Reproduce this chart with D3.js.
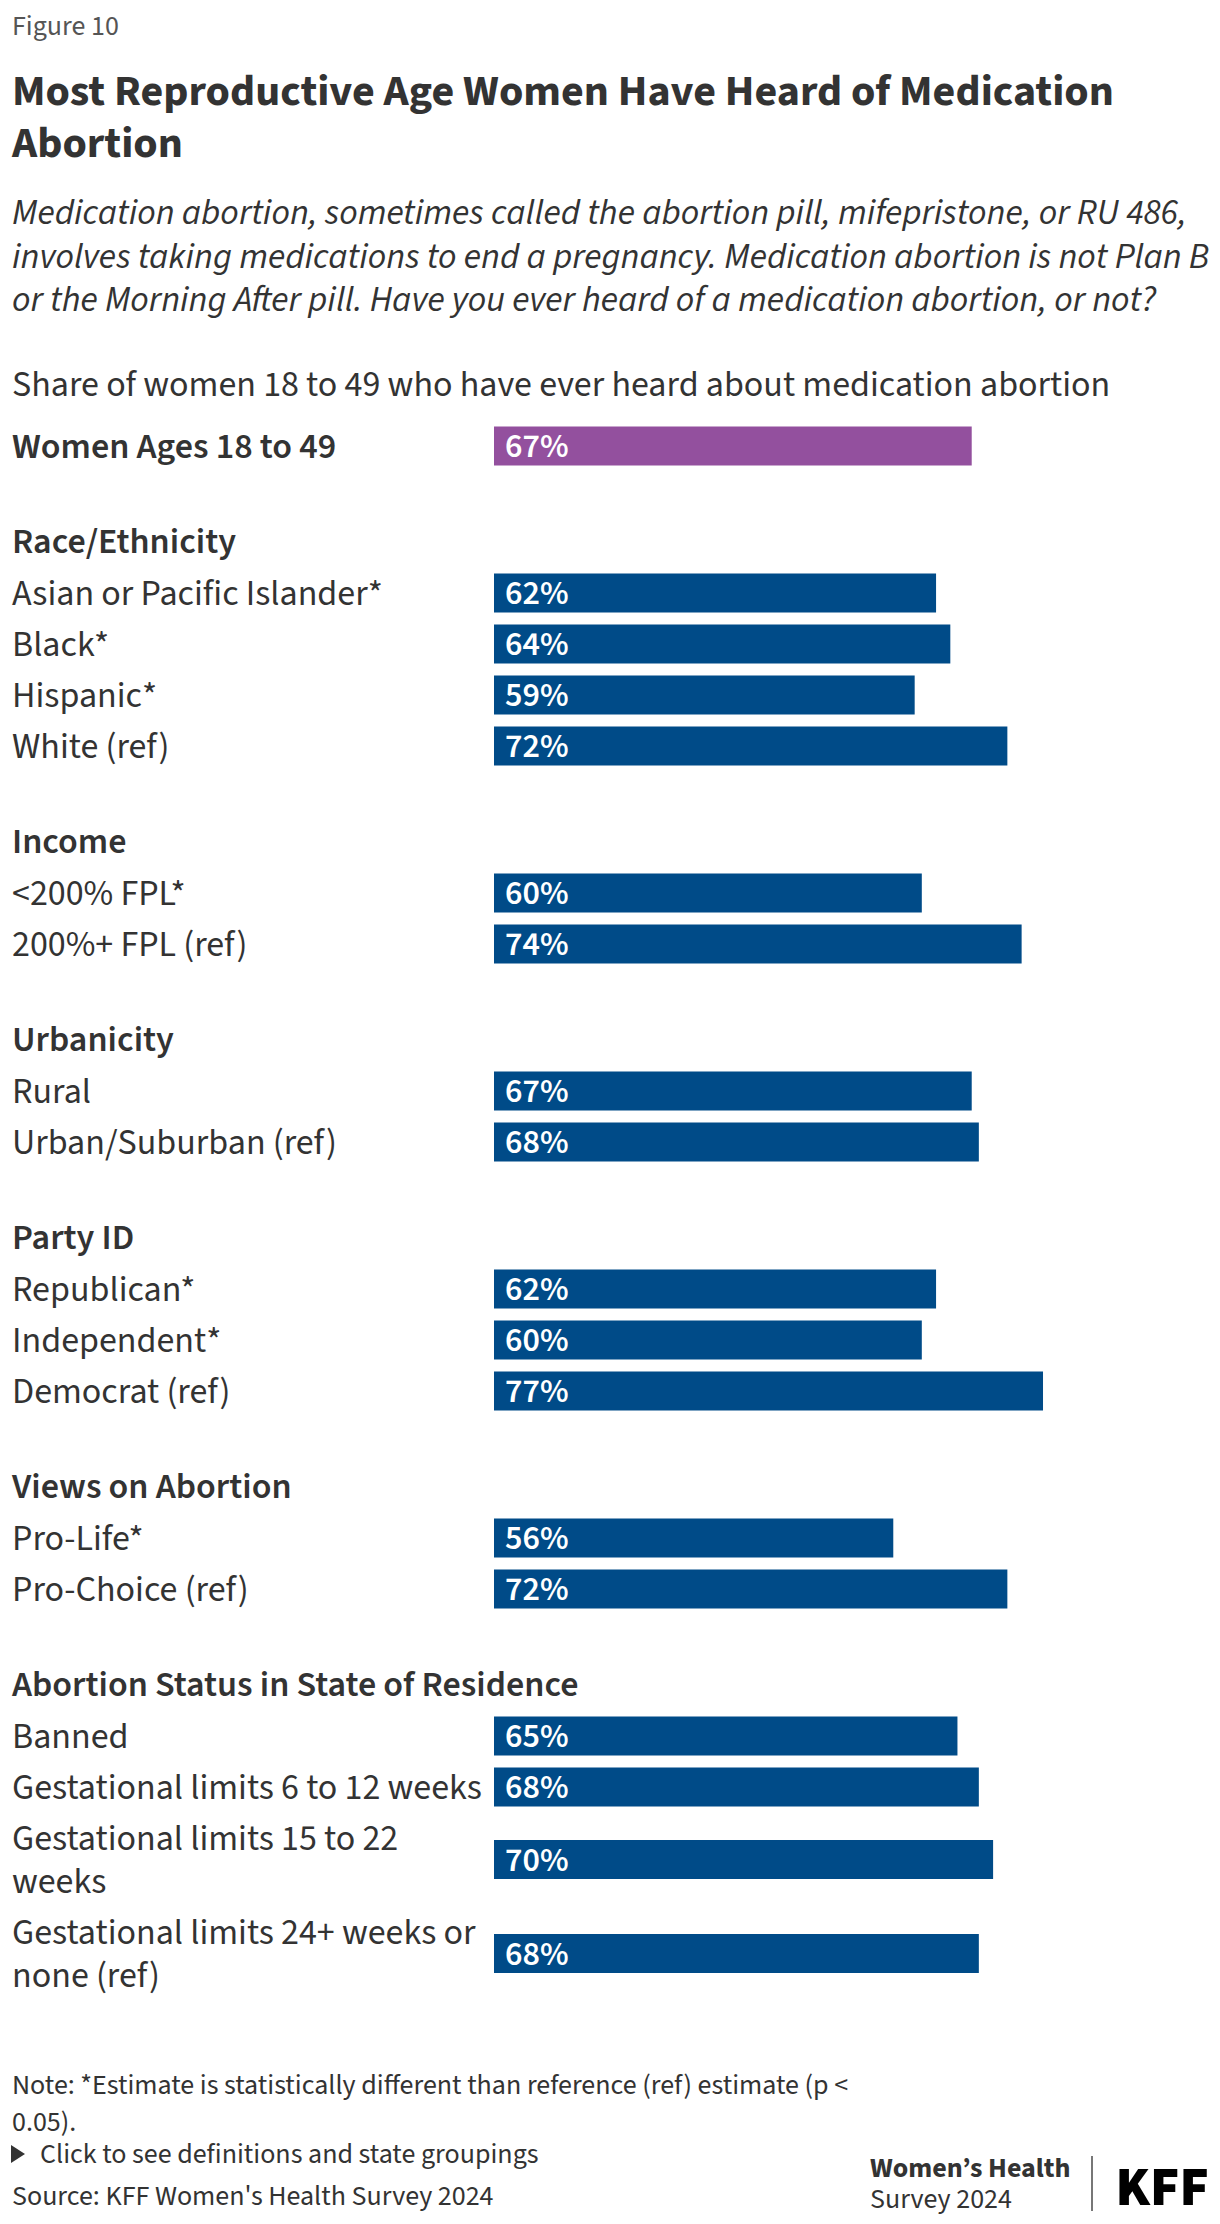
<!DOCTYPE html>
<html><head><meta charset="utf-8">
<script src="https://cdn.jsdelivr.net/npm/d3@7"></script>
<style>html,body{margin:0;padding:0;background:#fff;} svg{display:block;}</style>
</head><body>
<svg id="chart" width="1220" height="2224"></svg>
<script>
const groupNames = ["", "Race/Ethnicity", "Income", "Urbanicity", "Party ID", "Views on Abortion", "Abortion Status in State of Residence"];
const categories = ["Women Ages 18 to 49", "Asian or Pacific Islander*", "Black*", "Hispanic*", "White (ref)",
  "<200% FPL*", "200%+ FPL (ref)", "Rural", "Urban/Suburban (ref)", "Republican*", "Independent*", "Democrat (ref)",
  "Pro-Life*", "Pro-Choice (ref)", "Banned", "Gestational limits 6 to 12 weeks", "Gestational limits 15 to 22 weeks",
  "Gestational limits 24+ weeks or none (ref)"];
const categoryGroup = [0,1,1,1,1,2,2,3,3,4,4,4,5,5,6,6,6,6];
const values = [67,62,64,59,72,60,74,67,68,62,60,77,56,72,65,68,70,68];

const svg = d3.select("#chart");
const FONT = "'Source Sans 3','Source Sans Pro',Lato,sans-serif";
const TEXT = "#333";
const BLUE = "#004B88", PURPLE = "#93509E";
const S = {label: 36, title: 44, sub: 36, share: 36, note: 28, fig: 28, value: 34};
const BAR = 39, P = 51, LH = 43, HB = 96, CAP = 0.66;

const x = d3.scaleLinear().domain([0, 100]).range([494, 1207]);

function txt(t, xx, yy, size, opts = {}) {
  return svg.append("text").attr("x", xx).attr("y", yy).attr("font-family", FONT)
    .attr("font-size", size).attr("font-weight", opts.w || 400).attr("font-style", opts.it ? "italic" : "normal")
    .attr("text-anchor", opts.anchor || "start")
    .attr("fill", opts.fill || TEXT).text(t);
}

txt("Figure 10", 12, 35, S.fig, {fill: "#555"});
txt("Most Reproductive Age Women Have Heard of Medication", 12, 105, S.title, {w: 700});
txt("Abortion", 12, 157, S.title, {w: 700});
txt("Medication abortion, sometimes called the abortion pill, mifepristone, or RU 486,", 12, 224, S.sub, {it: true});
txt("involves taking medications to end a pregnancy. Medication abortion is not Plan B", 12, 267.5, S.sub, {it: true});
txt("or the Morning After pill. Have you ever heard of a medication abortion, or not?", 12, 311, S.sub, {it: true});
txt("Share of women 18 to 49 who have ever heard about medication abortion", 12, 396, S.share);

const meas = svg.append("text").attr("font-family", FONT).attr("font-size", S.label).attr("visibility", "hidden");
function wrap(t, maxW, weight) {
  meas.attr("font-weight", weight);
  const words = t.split(" "); const lines = []; let cur = "";
  words.forEach(w => {
    const test = cur ? cur + " " + w : w;
    meas.text(test);
    if (meas.node().getComputedTextLength() > maxW && cur) { lines.push(cur); cur = w; } else cur = test;
  });
  lines.push(cur); return lines;
}
const labelLines = categories.map((c, i) => wrap(c, 478, i === 0 ? 600 : 400));
meas.remove();

const centers = []; const headers = [];
let yTop = 426.5 + BAR / 2 - P / 2;
categories.forEach((c, i) => {
  if (i > 0 && categoryGroup[i] !== categoryGroup[i - 1]) {
    yTop += HB;
    headers.push({name: groupNames[categoryGroup[i]], y: yTop + (P - BAR) / 2 - 21});
  }
  const h = P + (labelLines[i].length - 1) * LH;
  centers.push(yTop + h / 2);
  yTop += h;
});
const yC = d3.scaleOrdinal().domain(categories).range(centers);

headers.forEach(hd => txt(hd.name, 12, hd.y, S.label, {w: 600}));

const rows = svg.append("g").selectAll("g").data(categories).join("g");
rows.append("rect").attr("x", x(0)).attr("y", d => yC(d) - BAR / 2)
  .attr("width", (d, i) => x(values[i]) - x(0)).attr("height", BAR)
  .attr("fill", (d, i) => i === 0 ? PURPLE : BLUE);
rows.append("text").attr("x", x(0) + 11).attr("y", d => yC(d) + S.value * CAP / 2)
  .attr("font-family", FONT).attr("font-size", S.value).attr("font-weight", 600).attr("fill", "#fff")
  .text((d, i) => values[i] + "%");
rows.each(function(d, i) {
  const L = labelLines[i]; const n = L.length;
  const t = d3.select(this).append("text").attr("font-family", FONT).attr("font-size", S.label)
    .attr("font-weight", i === 0 ? 600 : 400).attr("fill", TEXT);
  L.forEach((ln, k) => t.append("tspan").attr("x", 12)
    .attr("y", yC(d) + (k - (n - 1) / 2) * LH + S.label * CAP / 2).text(ln));
});

txt("Note: *Estimate is statistically different than reference (ref) estimate (p <", 12, 2094, S.note);
txt("0.05).", 12, 2131, S.note);
svg.append("path").attr("d", "M11,2145 L25,2154 L11,2163 Z").attr("fill", TEXT);
txt("Click to see definitions and state groupings", 40, 2163, S.note);
txt("Source: KFF Women's Health Survey 2024", 12, 2205, S.note);
txt("Women\u2019s Health", 870, 2177, S.note, {w: 700});
txt("Survey 2024", 870, 2208, S.note);
svg.append("line").attr("x1", 1092).attr("x2", 1092).attr("y1", 2156).attr("y2", 2211).attr("stroke", "#777").attr("stroke-width", 2);
txt("KFF", 1209, 2205, 55, {w: 900, fill: "#000", anchor: "end"});
</script></body></html>
